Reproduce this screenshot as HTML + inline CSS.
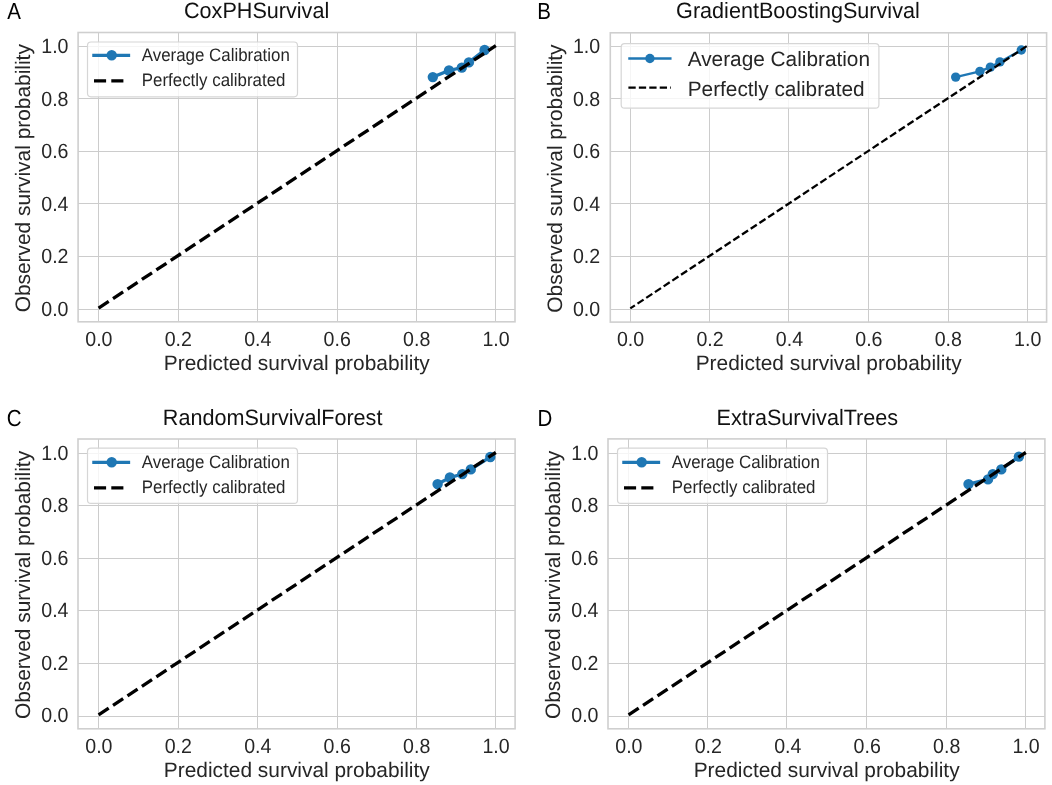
<!DOCTYPE html>
<html><head><meta charset="utf-8"><title>Calibration plots</title>
<style>
html,body{margin:0;padding:0;background:#fff;width:1052px;height:785px;overflow:hidden}
svg{display:block;font-family:"Liberation Sans", sans-serif;-webkit-font-smoothing:antialiased;text-rendering:geometricPrecision}
</style></head><body>
<svg width="1052" height="785" viewBox="0 0 1052 785">
<rect width="1052" height="785" fill="#fff"/>
<g style="will-change:transform">
<text transform="translate(7.3,18.6) scale(1,1.13)" font-size="20.5" fill="#000">A</text>
<text transform="translate(184.00,18.30) scale(1,1.03)" font-size="21.6" fill="#111">CoxPHSurvival</text>
<line x1="98.50" y1="32.5" x2="98.50" y2="321.8" stroke="#cccccc" stroke-width="1.0"/>
<line x1="78.1" y1="309.50" x2="515.0" y2="309.50" stroke="#cccccc" stroke-width="1.0"/>
<line x1="178.50" y1="32.5" x2="178.50" y2="321.8" stroke="#cccccc" stroke-width="1.0"/>
<line x1="78.1" y1="256.50" x2="515.0" y2="256.50" stroke="#cccccc" stroke-width="1.0"/>
<line x1="257.50" y1="32.5" x2="257.50" y2="321.8" stroke="#cccccc" stroke-width="1.0"/>
<line x1="78.1" y1="203.50" x2="515.0" y2="203.50" stroke="#cccccc" stroke-width="1.0"/>
<line x1="337.50" y1="32.5" x2="337.50" y2="321.8" stroke="#cccccc" stroke-width="1.0"/>
<line x1="78.1" y1="151.50" x2="515.0" y2="151.50" stroke="#cccccc" stroke-width="1.0"/>
<line x1="416.50" y1="32.5" x2="416.50" y2="321.8" stroke="#cccccc" stroke-width="1.0"/>
<line x1="78.1" y1="98.50" x2="515.0" y2="98.50" stroke="#cccccc" stroke-width="1.0"/>
<line x1="495.50" y1="32.5" x2="495.50" y2="321.8" stroke="#cccccc" stroke-width="1.0"/>
<line x1="78.1" y1="46.50" x2="515.0" y2="46.50" stroke="#cccccc" stroke-width="1.0"/>
<rect x="78.1" y="32.5" width="436.90" height="289.30" fill="none" stroke="#cfcfcf" stroke-width="1.6"/>
<text transform="translate(98.90,345.70) scale(1,1.05)" font-size="19.6" fill="#262626" text-anchor="middle">0.0</text>
<text transform="translate(68.50,316.00) scale(1,1.05)" font-size="19.6" fill="#262626" text-anchor="end">0.0</text>
<text transform="translate(178.34,345.70) scale(1,1.05)" font-size="19.6" fill="#262626" text-anchor="middle">0.2</text>
<text transform="translate(68.50,263.40) scale(1,1.05)" font-size="19.6" fill="#262626" text-anchor="end">0.2</text>
<text transform="translate(257.78,345.70) scale(1,1.05)" font-size="19.6" fill="#262626" text-anchor="middle">0.4</text>
<text transform="translate(68.50,210.80) scale(1,1.05)" font-size="19.6" fill="#262626" text-anchor="end">0.4</text>
<text transform="translate(337.22,345.70) scale(1,1.05)" font-size="19.6" fill="#262626" text-anchor="middle">0.6</text>
<text transform="translate(68.50,158.20) scale(1,1.05)" font-size="19.6" fill="#262626" text-anchor="end">0.6</text>
<text transform="translate(416.66,345.70) scale(1,1.05)" font-size="19.6" fill="#262626" text-anchor="middle">0.8</text>
<text transform="translate(68.50,105.60) scale(1,1.05)" font-size="19.6" fill="#262626" text-anchor="end">0.8</text>
<text transform="translate(496.10,345.70) scale(1,1.05)" font-size="19.6" fill="#262626" text-anchor="middle">1.0</text>
<text transform="translate(68.50,53.00) scale(1,1.05)" font-size="19.6" fill="#262626" text-anchor="end">1.0</text>
<text x="296.75" y="369.80" font-size="20.9" fill="#262626" text-anchor="middle">Predicted survival probability</text>
<text transform="translate(29.90,178.25) rotate(-90)" font-size="20.9" fill="#262626" text-anchor="middle">Observed survival probability</text>
<polyline points="432.8,77.10 449.0,70.50 461.8,67.60 468.9,62.40 484.6,50.00" fill="none" stroke="#1f77b4" stroke-width="3.3" stroke-linejoin="round" stroke-linecap="square"/>
<circle cx="432.8" cy="77.10" r="5.2" fill="#1f77b4"/>
<circle cx="449.0" cy="70.50" r="5.2" fill="#1f77b4"/>
<circle cx="461.8" cy="67.60" r="5.2" fill="#1f77b4"/>
<circle cx="468.9" cy="62.40" r="5.2" fill="#1f77b4"/>
<circle cx="484.6" cy="50.00" r="5.2" fill="#1f77b4"/>
<line x1="98.6" y1="308.10" x2="495.8" y2="45.70" stroke="#000" stroke-width="3.3" stroke-dasharray="12.1 5.2" stroke-dashoffset="0"/>
<rect x="87.5" y="42.0" width="210.00" height="54.80" rx="3.5" fill="#fff" fill-opacity="0.8" stroke="#d6d6d6" stroke-width="1.2"/>
<line x1="93.9" y1="55.3" x2="128.5" y2="55.3" stroke="#1f77b4" stroke-width="3.3" stroke-linecap="square"/>
<circle cx="111.70" cy="55.3" r="5.2" fill="#1f77b4"/>
<line x1="94.00" y1="80.8" x2="128.50" y2="80.8" stroke="#000" stroke-width="3.3" stroke-dasharray="12.1 5.2"/>
<text transform="translate(141.80,60.80) scale(1,1.07)" font-size="16.9" fill="#262626">Average Calibration</text>
<text transform="translate(141.80,85.90) scale(1,1.07)" font-size="16.9" fill="#262626">Perfectly calibrated</text>
<text transform="translate(537.15,18.6) scale(1,1.13)" font-size="20.5" fill="#000">B</text>
<text transform="translate(676.10,18.30) scale(1,1.03)" font-size="21.6" fill="#111">GradientBoostingSurvival</text>
<line x1="630.50" y1="32.8" x2="630.50" y2="322.1" stroke="#cccccc" stroke-width="1.0"/>
<line x1="610.3" y1="309.50" x2="1046.6" y2="309.50" stroke="#cccccc" stroke-width="1.0"/>
<line x1="709.50" y1="32.8" x2="709.50" y2="322.1" stroke="#cccccc" stroke-width="1.0"/>
<line x1="610.3" y1="256.50" x2="1046.6" y2="256.50" stroke="#cccccc" stroke-width="1.0"/>
<line x1="788.50" y1="32.8" x2="788.50" y2="322.1" stroke="#cccccc" stroke-width="1.0"/>
<line x1="610.3" y1="203.50" x2="1046.6" y2="203.50" stroke="#cccccc" stroke-width="1.0"/>
<line x1="868.50" y1="32.8" x2="868.50" y2="322.1" stroke="#cccccc" stroke-width="1.0"/>
<line x1="610.3" y1="151.50" x2="1046.6" y2="151.50" stroke="#cccccc" stroke-width="1.0"/>
<line x1="948.50" y1="32.8" x2="948.50" y2="322.1" stroke="#cccccc" stroke-width="1.0"/>
<line x1="610.3" y1="98.50" x2="1046.6" y2="98.50" stroke="#cccccc" stroke-width="1.0"/>
<line x1="1027.50" y1="32.8" x2="1027.50" y2="322.1" stroke="#cccccc" stroke-width="1.0"/>
<line x1="610.3" y1="46.50" x2="1046.6" y2="46.50" stroke="#cccccc" stroke-width="1.0"/>
<rect x="610.3" y="32.8" width="436.30" height="289.30" fill="none" stroke="#cfcfcf" stroke-width="1.6"/>
<text transform="translate(630.60,346.00) scale(1,1.05)" font-size="19.6" fill="#262626" text-anchor="middle">0.0</text>
<text transform="translate(600.20,316.00) scale(1,1.05)" font-size="19.6" fill="#262626" text-anchor="end">0.0</text>
<text transform="translate(710.02,346.00) scale(1,1.05)" font-size="19.6" fill="#262626" text-anchor="middle">0.2</text>
<text transform="translate(600.20,263.38) scale(1,1.05)" font-size="19.6" fill="#262626" text-anchor="end">0.2</text>
<text transform="translate(789.44,346.00) scale(1,1.05)" font-size="19.6" fill="#262626" text-anchor="middle">0.4</text>
<text transform="translate(600.20,210.76) scale(1,1.05)" font-size="19.6" fill="#262626" text-anchor="end">0.4</text>
<text transform="translate(868.86,346.00) scale(1,1.05)" font-size="19.6" fill="#262626" text-anchor="middle">0.6</text>
<text transform="translate(600.20,158.14) scale(1,1.05)" font-size="19.6" fill="#262626" text-anchor="end">0.6</text>
<text transform="translate(948.28,346.00) scale(1,1.05)" font-size="19.6" fill="#262626" text-anchor="middle">0.8</text>
<text transform="translate(600.20,105.52) scale(1,1.05)" font-size="19.6" fill="#262626" text-anchor="end">0.8</text>
<text transform="translate(1027.70,346.00) scale(1,1.05)" font-size="19.6" fill="#262626" text-anchor="middle">1.0</text>
<text transform="translate(600.20,52.90) scale(1,1.05)" font-size="19.6" fill="#262626" text-anchor="end">1.0</text>
<text x="828.65" y="370.10" font-size="20.9" fill="#262626" text-anchor="middle">Predicted survival probability</text>
<text transform="translate(562.10,178.55) rotate(-90)" font-size="20.9" fill="#262626" text-anchor="middle">Observed survival probability</text>
<polyline points="955.7,77.10 979.9,71.40 990.4,67.10 999.9,61.90 1021.3,50.00" fill="none" stroke="#1f77b4" stroke-width="2.3" stroke-linejoin="round" stroke-linecap="square"/>
<circle cx="955.7" cy="77.10" r="4.7" fill="#1f77b4"/>
<circle cx="979.9" cy="71.40" r="4.7" fill="#1f77b4"/>
<circle cx="990.4" cy="67.10" r="4.7" fill="#1f77b4"/>
<circle cx="999.9" cy="61.90" r="4.7" fill="#1f77b4"/>
<circle cx="1021.3" cy="50.00" r="4.7" fill="#1f77b4"/>
<line x1="630.3" y1="308.40" x2="1027.4" y2="45.70" stroke="#000" stroke-width="2.3" stroke-dasharray="7.3 3.14" stroke-dashoffset="1.8"/>
<rect x="621.2" y="43.7" width="257.70" height="64.50" rx="3.5" fill="#fff" fill-opacity="0.8" stroke="#d6d6d6" stroke-width="1.2"/>
<line x1="629.4000000000001" y1="58.5" x2="670.4000000000001" y2="58.5" stroke="#1f77b4" stroke-width="2.3" stroke-linecap="square"/>
<circle cx="649.90" cy="58.5" r="4.7" fill="#1f77b4"/>
<line x1="628.40" y1="87.7" x2="670.90" y2="87.7" stroke="#000" stroke-width="2.3" stroke-dasharray="7.3 3.14"/>
<text transform="translate(687.70,65.70) scale(1,1.0)" font-size="20.8" fill="#262626">Average Calibration</text>
<text transform="translate(687.70,95.70) scale(1,1.0)" font-size="20.8" fill="#262626">Perfectly calibrated</text>
<text transform="translate(6.7,425.5) scale(1,1.13)" font-size="20.5" fill="#000">C</text>
<text transform="translate(162.80,425.20) scale(1,1.03)" font-size="21.6" fill="#111">RandomSurvivalForest</text>
<line x1="98.50" y1="439.0" x2="98.50" y2="728.8" stroke="#cccccc" stroke-width="1.0"/>
<line x1="78.0" y1="716.50" x2="515.1" y2="716.50" stroke="#cccccc" stroke-width="1.0"/>
<line x1="178.50" y1="439.0" x2="178.50" y2="728.8" stroke="#cccccc" stroke-width="1.0"/>
<line x1="78.0" y1="663.50" x2="515.1" y2="663.50" stroke="#cccccc" stroke-width="1.0"/>
<line x1="257.50" y1="439.0" x2="257.50" y2="728.8" stroke="#cccccc" stroke-width="1.0"/>
<line x1="78.0" y1="610.50" x2="515.1" y2="610.50" stroke="#cccccc" stroke-width="1.0"/>
<line x1="337.50" y1="439.0" x2="337.50" y2="728.8" stroke="#cccccc" stroke-width="1.0"/>
<line x1="78.0" y1="558.50" x2="515.1" y2="558.50" stroke="#cccccc" stroke-width="1.0"/>
<line x1="416.50" y1="439.0" x2="416.50" y2="728.8" stroke="#cccccc" stroke-width="1.0"/>
<line x1="78.0" y1="505.50" x2="515.1" y2="505.50" stroke="#cccccc" stroke-width="1.0"/>
<line x1="495.50" y1="439.0" x2="495.50" y2="728.8" stroke="#cccccc" stroke-width="1.0"/>
<line x1="78.0" y1="453.50" x2="515.1" y2="453.50" stroke="#cccccc" stroke-width="1.0"/>
<rect x="78.0" y="439.0" width="437.10" height="289.80" fill="none" stroke="#cfcfcf" stroke-width="1.6"/>
<text transform="translate(98.90,752.70) scale(1,1.05)" font-size="19.6" fill="#262626" text-anchor="middle">0.0</text>
<text transform="translate(68.50,722.40) scale(1,1.05)" font-size="19.6" fill="#262626" text-anchor="end">0.0</text>
<text transform="translate(178.34,752.70) scale(1,1.05)" font-size="19.6" fill="#262626" text-anchor="middle">0.2</text>
<text transform="translate(68.50,669.82) scale(1,1.05)" font-size="19.6" fill="#262626" text-anchor="end">0.2</text>
<text transform="translate(257.78,752.70) scale(1,1.05)" font-size="19.6" fill="#262626" text-anchor="middle">0.4</text>
<text transform="translate(68.50,617.24) scale(1,1.05)" font-size="19.6" fill="#262626" text-anchor="end">0.4</text>
<text transform="translate(337.22,752.70) scale(1,1.05)" font-size="19.6" fill="#262626" text-anchor="middle">0.6</text>
<text transform="translate(68.50,564.66) scale(1,1.05)" font-size="19.6" fill="#262626" text-anchor="end">0.6</text>
<text transform="translate(416.66,752.70) scale(1,1.05)" font-size="19.6" fill="#262626" text-anchor="middle">0.8</text>
<text transform="translate(68.50,512.08) scale(1,1.05)" font-size="19.6" fill="#262626" text-anchor="end">0.8</text>
<text transform="translate(496.10,752.70) scale(1,1.05)" font-size="19.6" fill="#262626" text-anchor="middle">1.0</text>
<text transform="translate(68.50,459.50) scale(1,1.05)" font-size="19.6" fill="#262626" text-anchor="end">1.0</text>
<text x="296.75" y="776.80" font-size="20.9" fill="#262626" text-anchor="middle">Predicted survival probability</text>
<text transform="translate(29.80,585.00) rotate(-90)" font-size="20.9" fill="#262626" text-anchor="middle">Observed survival probability</text>
<polyline points="437.6,484.10 449.9,477.50 462.3,474.10 470.8,469.40 490.3,457.00" fill="none" stroke="#1f77b4" stroke-width="3.3" stroke-linejoin="round" stroke-linecap="square"/>
<circle cx="437.6" cy="484.10" r="5.2" fill="#1f77b4"/>
<circle cx="449.9" cy="477.50" r="5.2" fill="#1f77b4"/>
<circle cx="462.3" cy="474.10" r="5.2" fill="#1f77b4"/>
<circle cx="470.8" cy="469.40" r="5.2" fill="#1f77b4"/>
<circle cx="490.3" cy="457.00" r="5.2" fill="#1f77b4"/>
<line x1="98.6" y1="714.90" x2="495.8" y2="452.50" stroke="#000" stroke-width="3.3" stroke-dasharray="12.1 5.2" stroke-dashoffset="0"/>
<rect x="87.5" y="448.2" width="210.00" height="55.20" rx="3.5" fill="#fff" fill-opacity="0.8" stroke="#d6d6d6" stroke-width="1.2"/>
<line x1="93.9" y1="462.3" x2="128.5" y2="462.3" stroke="#1f77b4" stroke-width="3.3" stroke-linecap="square"/>
<circle cx="111.70" cy="462.3" r="5.2" fill="#1f77b4"/>
<line x1="94.00" y1="487.8" x2="128.50" y2="487.8" stroke="#000" stroke-width="3.3" stroke-dasharray="12.1 5.2"/>
<text transform="translate(141.80,467.80) scale(1,1.07)" font-size="16.9" fill="#262626">Average Calibration</text>
<text transform="translate(141.80,492.90) scale(1,1.07)" font-size="16.9" fill="#262626">Perfectly calibrated</text>
<text transform="translate(537.6,425.5) scale(1,1.13)" font-size="20.5" fill="#000">D</text>
<text transform="translate(716.50,425.20) scale(1,1.03)" font-size="21.6" fill="#111">ExtraSurvivalTrees</text>
<line x1="628.50" y1="438.9" x2="628.50" y2="728.8" stroke="#cccccc" stroke-width="1.0"/>
<line x1="608.0" y1="716.50" x2="1044.9" y2="716.50" stroke="#cccccc" stroke-width="1.0"/>
<line x1="707.50" y1="438.9" x2="707.50" y2="728.8" stroke="#cccccc" stroke-width="1.0"/>
<line x1="608.0" y1="663.50" x2="1044.9" y2="663.50" stroke="#cccccc" stroke-width="1.0"/>
<line x1="786.50" y1="438.9" x2="786.50" y2="728.8" stroke="#cccccc" stroke-width="1.0"/>
<line x1="608.0" y1="610.50" x2="1044.9" y2="610.50" stroke="#cccccc" stroke-width="1.0"/>
<line x1="866.50" y1="438.9" x2="866.50" y2="728.8" stroke="#cccccc" stroke-width="1.0"/>
<line x1="608.0" y1="558.50" x2="1044.9" y2="558.50" stroke="#cccccc" stroke-width="1.0"/>
<line x1="946.50" y1="438.9" x2="946.50" y2="728.8" stroke="#cccccc" stroke-width="1.0"/>
<line x1="608.0" y1="505.50" x2="1044.9" y2="505.50" stroke="#cccccc" stroke-width="1.0"/>
<line x1="1025.50" y1="438.9" x2="1025.50" y2="728.8" stroke="#cccccc" stroke-width="1.0"/>
<line x1="608.0" y1="453.50" x2="1044.9" y2="453.50" stroke="#cccccc" stroke-width="1.0"/>
<rect x="608.0" y="438.9" width="436.90" height="289.90" fill="none" stroke="#cfcfcf" stroke-width="1.6"/>
<text transform="translate(628.90,752.70) scale(1,1.05)" font-size="19.6" fill="#262626" text-anchor="middle">0.0</text>
<text transform="translate(598.50,722.40) scale(1,1.05)" font-size="19.6" fill="#262626" text-anchor="end">0.0</text>
<text transform="translate(708.34,752.70) scale(1,1.05)" font-size="19.6" fill="#262626" text-anchor="middle">0.2</text>
<text transform="translate(598.50,669.82) scale(1,1.05)" font-size="19.6" fill="#262626" text-anchor="end">0.2</text>
<text transform="translate(787.78,752.70) scale(1,1.05)" font-size="19.6" fill="#262626" text-anchor="middle">0.4</text>
<text transform="translate(598.50,617.24) scale(1,1.05)" font-size="19.6" fill="#262626" text-anchor="end">0.4</text>
<text transform="translate(867.22,752.70) scale(1,1.05)" font-size="19.6" fill="#262626" text-anchor="middle">0.6</text>
<text transform="translate(598.50,564.66) scale(1,1.05)" font-size="19.6" fill="#262626" text-anchor="end">0.6</text>
<text transform="translate(946.66,752.70) scale(1,1.05)" font-size="19.6" fill="#262626" text-anchor="middle">0.8</text>
<text transform="translate(598.50,512.08) scale(1,1.05)" font-size="19.6" fill="#262626" text-anchor="end">0.8</text>
<text transform="translate(1026.10,752.70) scale(1,1.05)" font-size="19.6" fill="#262626" text-anchor="middle">1.0</text>
<text transform="translate(598.50,459.50) scale(1,1.05)" font-size="19.6" fill="#262626" text-anchor="end">1.0</text>
<text x="826.65" y="776.80" font-size="20.9" fill="#262626" text-anchor="middle">Predicted survival probability</text>
<text transform="translate(559.80,584.95) rotate(-90)" font-size="20.9" fill="#262626" text-anchor="middle">Observed survival probability</text>
<polyline points="968.5,484.10 988.0,479.40 992.8,474.10 1001.3,469.40 1018.9,456.60" fill="none" stroke="#1f77b4" stroke-width="3.3" stroke-linejoin="round" stroke-linecap="square"/>
<circle cx="968.5" cy="484.10" r="5.2" fill="#1f77b4"/>
<circle cx="988.0" cy="479.40" r="5.2" fill="#1f77b4"/>
<circle cx="992.8" cy="474.10" r="5.2" fill="#1f77b4"/>
<circle cx="1001.3" cy="469.40" r="5.2" fill="#1f77b4"/>
<circle cx="1018.9" cy="456.60" r="5.2" fill="#1f77b4"/>
<line x1="628.6" y1="714.90" x2="1025.8" y2="452.50" stroke="#000" stroke-width="3.3" stroke-dasharray="12.1 5.2" stroke-dashoffset="0"/>
<rect x="617.5" y="448.2" width="210.00" height="55.20" rx="3.5" fill="#fff" fill-opacity="0.8" stroke="#d6d6d6" stroke-width="1.2"/>
<line x1="623.9" y1="462.3" x2="658.5" y2="462.3" stroke="#1f77b4" stroke-width="3.3" stroke-linecap="square"/>
<circle cx="641.70" cy="462.3" r="5.2" fill="#1f77b4"/>
<line x1="624.00" y1="487.8" x2="658.50" y2="487.8" stroke="#000" stroke-width="3.3" stroke-dasharray="12.1 5.2"/>
<text transform="translate(671.80,467.80) scale(1,1.07)" font-size="16.9" fill="#262626">Average Calibration</text>
<text transform="translate(671.80,492.90) scale(1,1.07)" font-size="16.9" fill="#262626">Perfectly calibrated</text>
</g>
</svg>
</body></html>
